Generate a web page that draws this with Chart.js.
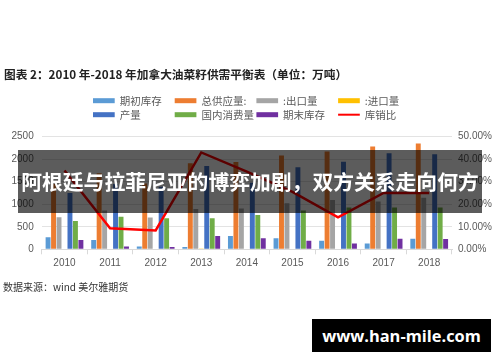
<!DOCTYPE html>
<html>
<head>
<meta charset="utf-8">
<script src="https://cdn.jsdelivr.net/npm/chart.js@4"></script>
<style>
  html, body { margin: 0; padding: 0; background: #ffffff; }
  #wrap { position: relative; width: 500px; height: 362px; overflow: hidden; background: #fff; }
  #c { position: absolute; left: 0; top: 0; }
  .title { position: absolute; left: 4px; top: 65px; font: bold 11.7px "Noto Sans CJK SC", sans-serif; color: #222; white-space: nowrap; }
  .source { position: absolute; left: 3px; top: 279px; font: 10px "Noto Sans CJK SC", sans-serif; color: #333; white-space: nowrap; }
  .banner { position: absolute; left: 18px; top: 150px; width: 464px; height: 63px; background: rgba(0,0,0,0.64);
            color: #fff; font: bold 20.8px "Noto Sans CJK SC", sans-serif; line-height: 63px; text-align: center; white-space: nowrap; }
  .mark { position: absolute; left: 312px; top: 319px; width: 179px; height: 33px; background: #000; color: #fff;
          font: bold 16.4px "Open Sans", sans-serif; line-height: 33px; text-align: center; white-space: nowrap; }
</style>
</head>
<body>
<div id="wrap">
  <canvas id="c" width="500" height="362"></canvas>
  <div class="title">图表 2：2010 年-2018 年加拿大油菜籽供需平衡表（单位：万吨）</div>
  <div class="source">数据来源：wind 美尔雅期货</div>
  <div class="banner">阿根廷与拉菲尼亚的博弈加剧，双方关系走向何方</div>
  <div class="mark">www.han-mile.com</div>
</div>
<script>
// ---- data (万吨 / %) ----
const years = ['2010', '2011', '2012', '2013', '2014', '2015', '2016', '2017', '2018'];
const openingStock = [270, 205, 60, 50, 295, 245, 190, 130, 235];
const totalSupply  = [1450, 1690, 1460, 1910, 1940, 2080, 2170, 2280, 2350];
const exports      = [710, 860, 705, 895, 905, 1020, 1095, 1060, 1145];
const imports      = [10, 12, 10, 8, 10, 12, 10, 12, 10];
const production   = [1250, 1450, 1390, 1850, 1480, 1820, 1945, 2130, 2110];
const domesticUse  = [630, 725, 690, 690, 760, 860, 930, 930, 930];
const endingStock  = [205, 60, 50, 295, 245, 190, 130, 235, 230];
const stockToUse   = [35, 9.3, 8.4, 43, 34.5, 25.5, 14.2, 25, 25];

const labels = ['期初库存', '总供应量:', ':出口量', ':进口量', '产量', '国内消费量', '期末库存', '库销比'];
const colors = ['#5B9BD5', '#ED7D31', '#A5A5A5', '#FFC000', '#4472C4', '#70AD47', '#7030A0', '#FF0000'];
const barSeries = [openingStock, totalSupply, exports, imports, production, domesticUse, endingStock];

const tickFont = { family: '"Liberation Sans", Arial, sans-serif', size: 10 };

const datasets = barSeries.map((d, i) => ({
  type: 'bar', label: labels[i], data: d, backgroundColor: colors[i],
  yAxisID: 'y', order: 1, categoryPercentage: 0.84, barPercentage: 0.9
}));
datasets.push({
  type: 'line', label: labels[7], data: stockToUse, borderColor: colors[7], backgroundColor: colors[7],
  borderWidth: 2.5, pointRadius: 0, tension: 0, yAxisID: 'y1', order: 0
});

const gridLegend = {
  id: 'gridLegend',
  afterDraw(chart) {
    const ctx = chart.ctx;
    ctx.save();
    ctx.font = '10.5px "Noto Sans CJK SC", sans-serif';
    ctx.textBaseline = 'middle';
    ctx.textAlign = 'left';
    chart.data.datasets.forEach((ds, i) => {
      const col = i % 4, row = Math.floor(i / 4);
      const x = 93 + col * 81.7, y = 100.7 + row * 14;
      if (ds.type === 'line') {
        ctx.strokeStyle = ds.borderColor; ctx.lineWidth = 2;
        ctx.beginPath(); ctx.moveTo(x, y); ctx.lineTo(x + 21.7, y); ctx.stroke();
      } else {
        ctx.fillStyle = ds.backgroundColor;
        ctx.fillRect(x, y - 2.5, 21.7, 5);
      }
      ctx.fillStyle = '#595959';
      ctx.fillText(ds.label, x + 26.7, y);
    });
    ctx.restore();
  }
};

new Chart(document.getElementById('c'), {
  data: { labels: years, datasets },
  plugins: [gridLegend],
  options: {
    responsive: false,
    animation: false,
    devicePixelRatio: 1,
    layout: { padding: { left: 0, right: 0, top: 136.7, bottom: 82.7 } },
    plugins: { legend: { display: false }, title: { display: false }, tooltip: { enabled: false } },
    scales: {
      x: {
        offset: true,
        grid: { display: true, drawOnChartArea: false, drawTicks: true, tickLength: 5, color: '#d9d9d9', offset: true },
        border: { display: true, color: '#d9d9d9' },
        ticks: { font: tickFont, color: '#595959', padding: 3, maxRotation: 0 },
        afterFit(s) { s.height = 30; }
      },
      y: {
        position: 'left', min: 0, max: 2500,
        ticks: { stepSize: 500, font: tickFont, color: '#595959', padding: 8, callback: v => String(v) },
        grid: { color: '#e3e3e3', drawTicks: false },
        border: { display: false },
        afterFit(s) { s.width = 41.7; }
      },
      y1: {
        position: 'right', min: 0, max: 50,
        ticks: { stepSize: 10, font: tickFont, color: '#595959', padding: 6, callback: v => v.toFixed(2) + '%' },
        grid: { display: false, drawTicks: false },
        border: { display: false },
        afterFit(s) { s.width = 48; }
      }
    }
  }
});
</script>
</body>
</html>
